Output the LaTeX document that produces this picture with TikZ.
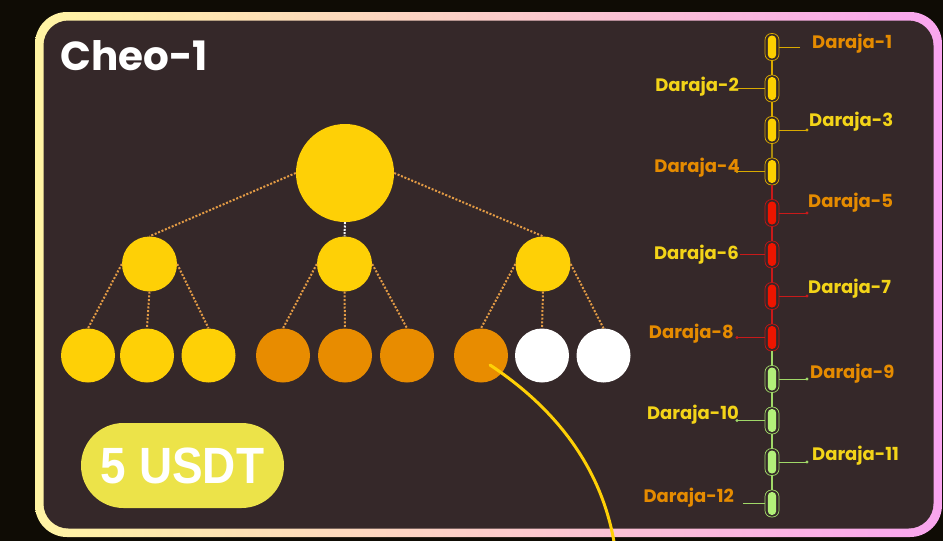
\documentclass[tikz,border=0pt]{standalone}
\usepackage{fontspec}
\setmainfont{Poppins}
\newfontfamily\usdtfont{Liberation Sans}
\definecolor{cbg}{HTML}{0F0C05}
\definecolor{cpanel}{HTML}{352829}
\definecolor{cfl}{HTML}{FFF4A3}
\definecolor{cfr}{HTML}{F9A5EF}
\definecolor{cyel}{HTML}{FED006}
\definecolor{corg}{HTML}{E88C00}
\definecolor{cdot}{HTML}{E39B45}
\definecolor{cusdt}{HTML}{ECE349}
\definecolor{labO}{HTML}{E58B00}
\definecolor{labY}{HTML}{F3D418}
\definecolor{YF}{HTML}{FCD000}
\definecolor{YO}{HTML}{D9AA00}
\definecolor{YL}{HTML}{D9AA00}
\definecolor{YL2}{HTML}{A88A10}
\definecolor{RF}{HTML}{EE1500}
\definecolor{RO}{HTML}{C01515}
\definecolor{RL}{HTML}{C81A1A}
\definecolor{GF}{HTML}{B2F079}
\definecolor{GO}{HTML}{A0D868}
\definecolor{GL}{HTML}{A0D868}
\begin{document}
\begin{tikzpicture}[x=1pt,y=-1pt,
  bignode/.style={circle, inner sep=0pt, fill=cyel, minimum size=98pt},
  midnode/.style={circle, inner sep=0pt, fill=cyel, minimum size=55pt},
  leaf/.style={circle, inner sep=0pt, minimum size=54pt},
  treeline/.style={draw=cdot, line width=2pt, dash pattern=on 2pt off 1.7pt},
  whiteline/.style={draw=white!92!gray, line width=2pt, dash pattern=on 2pt off 1.3pt},
  pillout/.style={rounded corners=6.5pt, minimum width=14pt, minimum height=27pt, inner sep=0pt, line width=0.7pt, fill=cpanel},
  lab/.style={font=\bfseries\fontsize{18}{18}\selectfont},
]
\useasboundingbox (0,0) rectangle (943,541);
\fill[cbg] (0,0) rectangle (943,541);
% frame
\shade[left color=cfl, right color=cfr, rounded corners=32pt] (35,12) rectangle (942,537);
\fill[cpanel, rounded corners=25pt] (43.5,20.5) rectangle (933.5,528.5);

% title
\node[anchor=base west, text=white, inner sep=0pt, font=\bfseries\fontsize{40.5}{40.5}\selectfont] (title) at (60,70) {Cheo-1};

% price pill
\node[fill=cusdt, rounded corners=42.5pt, minimum width=203pt, minimum height=85pt, inner sep=0pt, text=white,
      font=\usdtfont\bfseries\fontsize{51}{51}\selectfont] (usdt) at (182.5,465.5) {\scalebox{0.9}[1]{5 USDT}};

% tree
\node[bignode] (root) at (345,173) {};
\node[midnode] (a) at (149.5,264) {};
\node[midnode] (b) at (344.5,264) {};
\node[midnode] (c) at (543,264) {};
\node[leaf, fill=cyel] (l1) at (88,355.5) {};
\node[leaf, fill=cyel] (l2) at (147,355.5) {};
\node[leaf, fill=cyel] (l3) at (208.5,355.5) {};
\node[leaf, fill=corg] (l4) at (283,355.5) {};
\node[leaf, fill=corg] (l5) at (345,355.5) {};
\node[leaf, fill=corg] (l6) at (407,355.5) {};
\node[leaf, fill=corg] (l7) at (481,355.5) {};
\node[leaf, fill=white] (l8) at (542,355.5) {};
\node[leaf, fill=white] (l9) at (603.5,355.5) {};

\draw[treeline] (root.west) -- (a.north);
\draw[treeline] (root.east) -- (c.north);
\draw[whiteline] (root.south) -- (b.north);
\draw[treeline] (a.west) -- (l1.north);
\draw[treeline] (a.south) -- (l2.north);
\draw[treeline] (a.east) -- (l3.north);
\draw[treeline] (b.west) -- (l4.north);
\draw[treeline] (b.south) -- (l5.north);
\draw[treeline] (b.east) -- (l6.north);
\draw[treeline] (c.west) -- (l7.north);
\draw[treeline] (c.south) -- (l8.north);
\draw[treeline] (c.east) -- (l9.north);

% level pills
\foreach \i/\y/\col in {1/47/Y,2/88.5/Y,3/130/Y,4/171.5/Y,5/213/R,6/254.5/R,7/296/R,8/337.5/R,9/379/G,10/420.5/G,11/462/G,12/503.5/G}{
  \node[pillout, draw=\col O] (p\i) at (772,\y) {};
  \fill[\col F, rounded corners=4pt] ([xshift=-4.2pt,yshift=-11.5pt]p\i.center) rectangle ([xshift=4.2pt,yshift=11.5pt]p\i.center);
}
% spine
\foreach \a/\b/\c in {1/2/YL,2/3/YL,3/4/YL2,4/5/RL,5/6/RL,6/7/RL,7/8/RL,8/9/GL,9/10/GL,10/11/GL,11/12/GL}{
  \draw[\c, line width=1.1pt] (p\a.south) -- (p\b.north);
}
% right side labels
\foreach \i/\y/\col/\lc/\ex/\dr/\lx/\bl in {1/47/Y/labO/800/0/812/48, 3/130/Y/labY/807/1.6/809/126, 5/213/R/labO/807/1.6/808/207, 7/296/R/labY/807/1.6/808/293, 9/379/G/labO/807/1.6/810/378, 11/462/G/labY/807/1.6/812/460}{
  \coordinate (e\i) at (\ex,\y);
  \draw[\col L, line width=1pt] (p\i.east) -- (e\i);
  \fill[\col L] (e\i) circle (\dr pt);
  \node[lab, text=\lc, anchor=base west, inner sep=0pt] (d\i) at (\lx,\bl) {Daraja-\i};
}
% left side labels
\foreach \i/\y/\col/\lc/\ex/\dr/\lx/\bl in {2/88.5/Y/labY/738/0/739/91, 4/171.5/Y/labO/737/1.6/740/172, 6/254.5/R/labY/740/0/739/259, 8/337.5/R/labO/737/1.6/734/338, 10/420.5/G/labY/737/1.6/739/419, 12/503.5/G/labO/743/0/734/502}{
  \coordinate (e\i) at (\ex,\y);
  \draw[\col L, line width=1pt] (p\i.west) -- (e\i);
  \fill[\col L] (e\i) circle (\dr pt);
  \node[lab, text=\lc, anchor=base east, inner sep=0pt] (d\i) at (\lx,\bl) {Daraja-\i};
}

% highlight curve
\coordinate (cs) at (490,365);
\coordinate (ce) at (615,548);
\draw[cyel, line width=3pt, line cap=round] (cs) .. controls (555,408) and (603,468) .. (ce);
\end{tikzpicture}
\end{document}
